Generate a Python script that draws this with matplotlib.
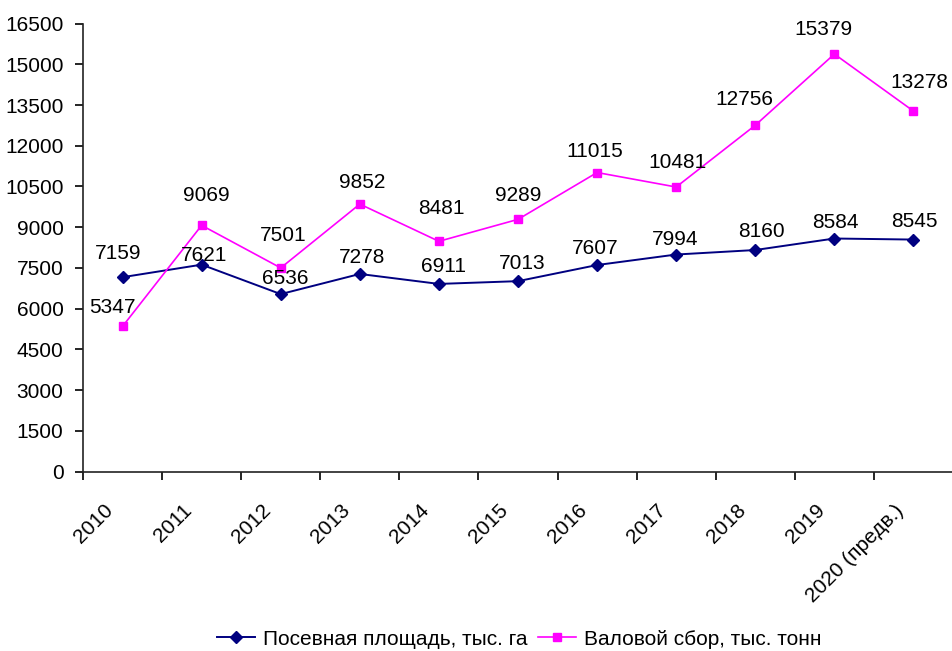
import matplotlib
matplotlib.use('Agg')
import matplotlib.pyplot as plt
from matplotlib.transforms import ScaledTranslation

years = ['2010', '2011', '2012', '2013', '2014', '2015', '2016', '2017', '2018', '2019', '2020 (предв.)']
area = [7159, 7621, 6536, 7278, 6911, 7013, 7607, 7994, 8160, 8584, 8545]
harvest = [5347, 9069, 7501, 9852, 8481, 9289, 11015, 10481, 12756, 15379, 13278]
yticks = list(range(0, 16501, 1500))

# label offsets (pixels) relative to each point, as in the original layout
area_dx = [-4, 2, 5, 2, 5, 4, -2, -1, 6, 1, 1]
area_dy = [18, 4, 10, 11, 12, 12, 11, 10, 13, 11, 13]
harv_dx = [-10, 5, 2, 2, 2, 0, -2, 1, -11, -11, 6]
harv_dy = [13, 24, 27, 16, 27, 18, 16, 19, 20, 19, 23]

plt.rcParams['font.family'] = ['Liberation Sans', 'DejaVu Sans']
plt.rcParams['font.size'] = 15

fig = plt.figure(figsize=(9.53, 6.51), dpi=100)
ax = fig.add_axes([0.0871, 0.2757, 0.9129, 0.688])

x = list(range(len(years)))
ax.plot(x, area, color='#000080', lw=1.4, marker='D', markersize=6.2,
        label='Посевная площадь, тыс. га', clip_on=False, zorder=3)
ax.plot(x, harvest, color='#FF00FF', lw=1.2, marker='s', markersize=6,
        label='Валовой сбор, тыс. тонн', clip_on=False, zorder=3)

for i in x:
    ax.annotate(str(area[i]), (i, area[i]), xytext=(area_dx[i], area_dy[i]),
                textcoords='offset pixels', ha='center', va='baseline')
    ax.annotate(str(harvest[i]), (i, harvest[i]), xytext=(harv_dx[i], harv_dy[i]),
                textcoords='offset pixels', ha='center', va='baseline',
                annotation_clip=False)

ax.set_ylim(0, 16500)
ax.set_yticks(yticks)
ax.set_xlim(-0.5, 10.38)

# category boundaries get tick marks, centres get labels
ax.set_xticks([i - 0.5 for i in range(len(years) + 1)])
ax.set_xticklabels([])
ax.set_xticks(x, minor=True)
ax.set_xticklabels(years, minor=True, rotation=45, ha='right', va='top')
ax.tick_params(axis='x', which='major', length=6, width=1.2, direction='out')
ax.tick_params(axis='x', which='minor', length=0, pad=21)
ax.tick_params(axis='y', length=6, width=1.2, direction='out', pad=8)
shift = ScaledTranslation(-6 / 100, 0, fig.dpi_scale_trans)
for lab in ax.get_xticklabels(minor=True):
    lab.set_transform(lab.get_transform() + shift)

for s in ['top', 'right']:
    ax.spines[s].set_visible(False)
for s in ['left', 'bottom']:
    ax.spines[s].set_linewidth(1.2)
    ax.spines[s].set_color('#222222')

fig.legend(loc='center', bbox_to_anchor=(0.545, 0.018), ncol=2, frameon=False,
           handlelength=1.8, handletextpad=0.4, columnspacing=0.5)

fig.savefig('out.png', dpi=100)
